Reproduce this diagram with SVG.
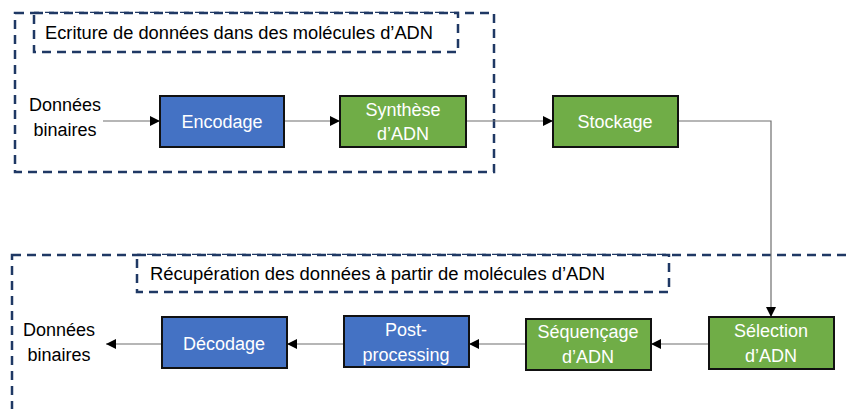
<svg xmlns="http://www.w3.org/2000/svg" width="846" height="409" viewBox="0 0 846 409">
<defs>
<style>
.grp{fill:none;stroke:#1F3864;stroke-width:2.5;stroke-dasharray:9,6}
.lbl{fill:#fff;stroke:#1F3864;stroke-width:2.5;stroke-dasharray:9,6}
.blue{fill:#4472C4;stroke:#111;stroke-width:2}
.green{fill:#70AD47;stroke:#111;stroke-width:2}
.t{font-family:"Liberation Sans",Arial,sans-serif;font-size:18px;fill:#000}
.w{font-family:"Liberation Sans",Arial,sans-serif;font-size:18px;fill:#fff;text-anchor:middle}
.c{fill:none;stroke:#6f6f6f;stroke-width:1.2}
</style>
<marker id="ah" viewBox="0 0 10 10" refX="10" refY="5" markerWidth="10" markerHeight="10" markerUnits="userSpaceOnUse" orient="auto">
<path d="M0,0 L10,5 L0,10 Z" fill="#000"/>
</marker>
</defs>
<rect fill="#fff" width="846" height="409"/>
<g id="group-ecriture">
<rect class="grp" x="15" y="13" width="479" height="159"/>
<rect class="lbl" x="34" y="13" width="424" height="39"/>
<text class="t" x="45" y="39" textLength="388" lengthAdjust="spacingAndGlyphs">Ecriture de données dans des molécules d’ADN</text>
</g>
<g id="group-recuperation">
<rect class="grp" x="12" y="255" width="860" height="200"/>
<rect class="lbl" x="137" y="255" width="532" height="37"/>
<text class="t" x="150" y="280" textLength="455" lengthAdjust="spacingAndGlyphs">Récupération des données à partir de molécules d’ADN</text>
</g>
<g id="connectors">
<path class="c" d="M103,121 H160" marker-end="url(#ah)"/>
<path class="c" d="M284,121 H340" marker-end="url(#ah)"/>
<path class="c" d="M466,121 H553" marker-end="url(#ah)"/>
<path class="c" d="M678,121 H771 V317" marker-end="url(#ah)"/>
<path class="c" d="M709,344 H651" marker-end="url(#ah)"/>
<path class="c" d="M526,344 H469" marker-end="url(#ah)"/>
<path class="c" d="M344,344 H287" marker-end="url(#ah)"/>
<path class="c" d="M162,344 H106" marker-end="url(#ah)"/>
</g>
<g id="in-data">
<text class="t" x="65" y="111" text-anchor="middle">Données</text>
<text class="t" x="65" y="136" text-anchor="middle">binaires</text>
</g>
<g id="encodage">
<rect class="blue" x="160" y="96" width="124" height="51"/>
<text class="w" x="222" y="128">Encodage</text>
</g>
<g id="synthese">
<rect class="green" x="340" y="96" width="126" height="51"/>
<text class="w" x="403" y="116">Synthèse</text>
<text class="w" x="403" y="140">d’ADN</text>
</g>
<g id="stockage">
<rect class="green" x="553" y="96" width="125" height="51"/>
<text class="w" x="615" y="128">Stockage</text>
</g>
<g id="selection">
<rect class="green" x="709" y="317" width="125" height="52"/>
<text class="w" x="771" y="337">Sélection</text>
<text class="w" x="771" y="362">d’ADN</text>
</g>
<g id="sequencage">
<rect class="green" x="526" y="319" width="125" height="51"/>
<text class="w" x="588" y="338">Séquençage</text>
<text class="w" x="588" y="363">d’ADN</text>
</g>
<g id="postprocessing">
<rect class="blue" x="344" y="316" width="125" height="51"/>
<text class="w" x="406" y="336">Post-</text>
<text class="w" x="406" y="361">processing</text>
</g>
<g id="decodage">
<rect class="blue" x="162" y="317" width="125" height="51"/>
<text class="w" x="224" y="350">Décodage</text>
</g>
<g id="out-data">
<text class="t" x="59" y="336" text-anchor="middle">Données</text>
<text class="t" x="59" y="361" text-anchor="middle">binaires</text>
</g>
</svg>
